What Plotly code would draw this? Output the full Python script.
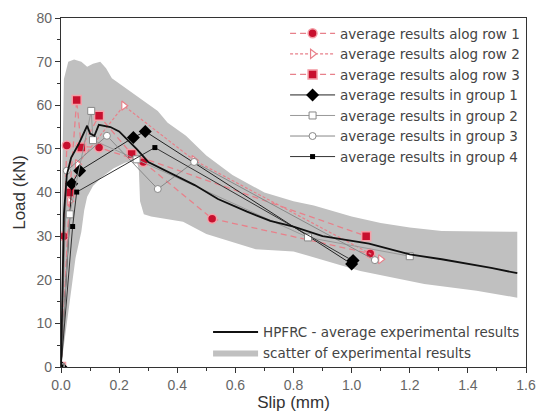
import plotly.graph_objects as go

# ---- data ----
band_upper_x = [0.0, 0.003, 0.01, 0.025, 0.045, 0.07, 0.09, 0.11, 0.135, 0.155, 0.175, 0.256, 0.333, 0.367, 0.43, 0.5, 0.59, 0.7, 0.8, 0.87, 1.0, 1.1, 1.2, 1.31, 1.57]
band_upper_y = [0.0, 40, 66, 70, 70.5, 70, 68.8, 69.5, 70, 68.5, 66.2, 62.4, 58.7, 56, 53, 48.5, 44, 40, 38, 37, 34.5, 33, 32, 31.2, 31]
band_lower_x = [0.0, 0.01, 0.03, 0.05, 0.07, 0.08, 0.09, 0.11, 0.14, 0.18, 0.22, 0.26, 0.268, 0.272, 0.285, 0.31, 0.42, 0.5, 0.67, 0.8, 1.03, 1.25, 1.43, 1.57]
band_lower_y = [0.0, 5, 15, 25, 31, 36, 39, 41.5, 43.5, 45.5, 46.8, 47.5, 45, 38, 35, 34.5, 33.3, 30.5, 27, 26.5, 22, 19, 17.5, 15.9]

avg_x = [0.0, 0.005, 0.01, 0.02, 0.035, 0.06, 0.08, 0.09, 0.1, 0.115, 0.13, 0.17, 0.2, 0.23, 0.26, 0.3, 0.37, 0.46, 0.54, 0.64, 0.72, 0.8, 0.9, 1.06, 1.2, 1.31, 1.48, 1.57]
avg_y = [0.0, 20, 35, 44, 48, 51, 54, 55.3, 53.5, 53, 55.5, 55, 54, 52, 50, 47, 44.7, 41.7, 38.5, 35.6, 33.5, 32.2, 30, 28.3, 25.8, 24.7, 22.7, 21.5]

row1_x = [0.0, 0.01, 0.02, 0.131, 0.283, 0.52, 1.064]
row1_y = [0.0, 30, 50.8, 50.3, 47, 34, 26]
row2_x = [0.0, 0.03, 0.057, 0.216, 0.458, 1.1]
row2_y = [0.0, 38, 46.5, 59.9, 47.4, 24.7]
row3_x = [0.0, 0.03, 0.054, 0.07, 0.131, 0.243, 1.05]
row3_y = [0.0, 40, 61.2, 50.3, 57.6, 48.8, 30]

grp1_x = [0.0, 0.037, 0.064, 0.249, 0.29, 1.0, 1.005]
grp1_y = [0.0, 42, 45, 52.6, 54, 23.6, 24.4]
grp2_x = [0.0, 0.03, 0.104, 0.11, 0.26, 0.85, 1.2]
grp2_y = [0.0, 35, 58.7, 52, 47.6, 29.7, 25.4]
grp3_x = [0.0, 0.02, 0.158, 0.333, 0.458, 1.08]
grp3_y = [0.0, 45, 53, 40.8, 47, 24.5]
grp4_x = [0.0, 0.04, 0.054, 0.323, 1.0]
grp4_y = [0.0, 32.2, 40.1, 50.3, 24.5]

x_ticks = [0.0, 0.2, 0.4, 0.6, 0.8, 1.0, 1.2, 1.4, 1.6]
y_ticks = [0, 10, 20, 30, 40, 50, 60, 70, 80]

FONT = "Liberation Sans, Arial, sans-serif"
LFONT = "DejaVu Sans, Liberation Sans, sans-serif"
RED = "#c8102e"
PINK = "#e8808a"

fig = go.Figure()

# scatter band (polygon)
fig.add_trace(go.Scatter(
    x=band_upper_x + band_lower_x[::-1],
    y=band_upper_y + band_lower_y[::-1],
    fill="toself", fillcolor="rgb(192,192,192)", mode="lines",
    line=dict(width=0, color="rgb(192,192,192)"),
    name="scatter of experimental results", legend="legend2", hoverinfo="skip"))

# series
fig.add_trace(go.Scatter(x=row1_x, y=row1_y, mode="lines+markers",
    name="average results alog row 1",
    line=dict(color=PINK, width=1.3, dash="6px,4px"),
    marker=dict(symbol="circle", size=9, color=RED, line=dict(color="#f4a0a8", width=1.5))))
fig.add_trace(go.Scatter(x=row2_x, y=row2_y, mode="lines+markers",
    name="average results alog row 2",
    line=dict(color=PINK, width=1.2, dash="3px,2px"),
    marker=dict(symbol="triangle-right", size=8, color="white", line=dict(color=PINK, width=1.2))))
fig.add_trace(go.Scatter(x=row3_x, y=row3_y, mode="lines+markers",
    name="average results alog row 3",
    line=dict(color=PINK, width=1.3, dash="6px,4px"),
    marker=dict(symbol="square", size=9, color=RED, line=dict(color="#f4a0a8", width=1.5))))
fig.add_trace(go.Scatter(x=grp1_x, y=grp1_y, mode="lines+markers",
    name="average results in group 1",
    line=dict(color="#222222", width=1),
    marker=dict(symbol="diamond", size=10, color="black")))
fig.add_trace(go.Scatter(x=grp2_x, y=grp2_y, mode="lines+markers",
    name="average results in group 2",
    line=dict(color="#999999", width=1),
    marker=dict(symbol="square", size=7, color="white", line=dict(color="#888888", width=1))))
fig.add_trace(go.Scatter(x=grp3_x, y=grp3_y, mode="lines+markers",
    name="average results in group 3",
    line=dict(color="#888888", width=1),
    marker=dict(symbol="circle", size=7, color="white", line=dict(color="#888888", width=1))))
fig.add_trace(go.Scatter(x=grp4_x, y=grp4_y, mode="lines+markers",
    name="average results in group 4",
    line=dict(color="#333333", width=1),
    marker=dict(symbol="square", size=5, color="black")))

# average experimental curve
fig.add_trace(go.Scatter(x=avg_x, y=avg_y, mode="lines",
    name="HPFRC - average experimental results", legend="legend2",
    line=dict(color="#111111", width=1.8)))

fig.update_layout(
    width=546, height=418,
    margin=dict(l=61, r=10, t=11, b=51),
    paper_bgcolor="white", plot_bgcolor="white",
    font=dict(family=FONT, size=14, color="#444444"),
    legend=dict(x=0.998, y=1.0, xanchor="right", yanchor="top",
                bgcolor="rgba(0,0,0,0)", borderwidth=0, itemwidth=45,
                font=dict(family=LFONT, size=13.5, color="#444444"), tracegroupgap=0),
    legend2=dict(x=0.998, y=-0.005, xanchor="right", yanchor="bottom",
                 bgcolor="rgba(0,0,0,0)", borderwidth=0, itemwidth=45,
                 traceorder="reversed",
                 font=dict(family=LFONT, size=13.5, color="#444444")),
    showlegend=True,
)
fig.update_xaxes(range=[0, 1.6], tickvals=x_ticks, ticktext=[f"{v:.1f}" for v in x_ticks],
                 ticks="outside", ticklen=5, tickcolor="#333", linecolor="#333", linewidth=1.2,
                 mirror=True, showgrid=False, zeroline=False,
                 minor=dict(dtick=0.1, ticks="outside", ticklen=3, tickcolor="#333"),
                 tickfont=dict(size=14, color="#666666"),
                 title=dict(text="Slip (mm)", font=dict(size=17, color="#333333"), standoff=0))
fig.update_yaxes(range=[0, 80], tickvals=y_ticks,
                 ticks="outside", ticklen=5, tickcolor="#333", linecolor="#333", linewidth=1.2,
                 mirror=True, showgrid=False, zeroline=False,
                 minor=dict(dtick=5, ticks="outside", ticklen=3, tickcolor="#333"),
                 tickfont=dict(size=14, color="#666666"),
                 title=dict(text="Load (kN)", font=dict(size=17, color="#333333"), standoff=6))

fig.write_html("out.html")
